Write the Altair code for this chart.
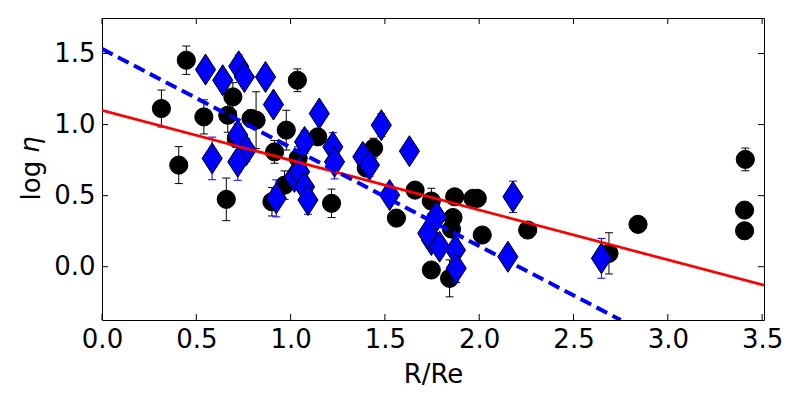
import altair as alt
import pandas as pd

# ---- data ----
circ_x = [0.447, 0.315, 0.407, 0.540, 0.659, 0.694, 0.667, 0.790, 0.817, 0.712,
          0.977, 0.915, 0.968, 0.901, 1.217, 1.144, 1.036, 1.040, 1.440, 1.401,
          1.561, 1.660, 1.746, 1.870, 1.967, 1.990, 1.861, 1.853, 1.746, 1.843,
          2.016, 2.257, 2.688, 2.842, 3.411, 3.407, 3.407]
circ_y = [1.453, 1.113, 0.715, 1.054, 0.474, 1.195, 1.066, 1.043, 1.031, 0.902,
          0.961, 0.808, 0.574, 0.457, 0.446, 0.914, 1.312, 0.764, 0.834, 0.694,
          0.342, 0.539, 0.462, 0.492, 0.481, 0.481, 0.346, 0.265, -0.023, -0.082,
          0.223, 0.258, 0.094, 0.298, 0.755, 0.398, 0.253]
circ_err = [0.10, 0.13, 0.13, 0.12, 0.15, 0.10, 0.12, 0.06, 0.20, 0.06,
            0.14, 0.08, 0.10, 0.10, 0.10, 0.05, 0.08, 0.08, 0.07, 0.05,
            0.04, 0.05, 0.09, 0.05, 0.04, 0.04, 0.05, 0.05, 0.04, 0.13,
            0.03, 0.03, 0.145, 0.03, 0.08, 0.03, 0.03]

dia_x = [0.549, 0.640, 0.725, 0.755, 0.867, 0.909, 0.584, 0.720, 0.765, 0.720,
         1.152, 1.074, 1.224, 1.233, 1.383, 1.418, 1.020, 1.048, 1.074, 1.092,
         0.924, 1.481, 1.630, 1.525, 2.179, 2.152, 1.773, 1.746, 1.790, 1.727,
         1.874, 1.878, 2.648]
dia_y = [1.387, 1.312, 1.410, 1.335, 1.335, 1.141, 0.762, 0.926, 0.820, 0.738,
         1.078, 0.878, 0.843, 0.738, 0.773, 0.715, 0.632, 0.668, 0.562, 0.469,
         0.481, 0.996, 0.813, 0.504, 0.492, 0.070, 0.351, 0.188, 0.141, 0.235,
         0.117, -0.011, 0.059]
dia_err = [0.06, 0.06, 0.08, 0.06, 0.06, 0.06, 0.15, 0.08, 0.08, 0.13,
           0.06, 0.08, 0.10, 0.12, 0.06, 0.08, 0.06, 0.06, 0.10, 0.10,
           0.13, 0.08, 0.06, 0.06, 0.11, 0.06, 0.06, 0.06, 0.06, 0.06,
           0.08, 0.10, 0.14]

red_x = [0.0, 3.51]
red_y = [1.10, -0.13]
blue_x = [0.0, 2.75]
blue_y = [1.533, -0.375]

x_ticks = [0.0, 0.5, 1.0, 1.5, 2.0, 2.5, 3.0, 3.5]
y_ticks = [0.0, 0.5, 1.0, 1.5]

# ---- tables ----
circ = pd.DataFrame({"x": circ_x, "y": circ_y, "e": circ_err})
circ["lo"] = circ["y"] - circ["e"]
circ["hi"] = circ["y"] + circ["e"]
dia = pd.DataFrame({"x": dia_x, "y": dia_y, "e": dia_err})
dia["lo"] = dia["y"] - dia["e"]
dia["hi"] = dia["y"] + dia["e"]
red = pd.DataFrame({"x": red_x, "y": red_y})
blue = pd.DataFrame({"x": blue_x, "y": blue_y})
xt = pd.DataFrame({"x": x_ticks})
yt = pd.DataFrame({"y": y_ticks})

W, H = 662, 302
FONT = "DejaVu Sans"
xs = alt.Scale(domain=[0, 3.51], nice=False, zero=False)
ys = alt.Scale(domain=[-0.375, 1.75], nice=False, zero=False)

x_axis = alt.Axis(values=x_ticks, format=".1f", ticks=False, tickSize=0, domain=False,
                  grid=False, labelFont=FONT, labelFontSize=26, labelColor="black",
                  labelPadding=6, labelFlush=False, labelOverlap=False,
                  title="R/Re", titleFont=FONT, titleFontSize=26, titleFontWeight="normal",
                  titleColor="black", titleBaseline="alphabetic", titleY=62, titleX=331,
                  titleAlign="center")
y_axis = alt.Axis(values=y_ticks, format=".1f", ticks=False, tickSize=0, domain=False,
                  grid=False, labelFont=FONT, labelFontSize=26, labelColor="black",
                  labelPadding=7, labelFlush=False, labelOverlap=False,
                  title="log", titleFont=FONT, titleFontSize=26, titleFontWeight="normal",
                  titleColor="black", titleAngle=270, titleAlign="left",
                  titleBaseline="alphabetic", titleX=-63, titleY=182)


def X(field):
    return alt.X(field, type="quantitative", scale=xs, axis=x_axis, title="R/Re")


def Y(field):
    return alt.Y(field, type="quantitative", scale=ys, axis=y_axis, title="log")


def errbars(df, color):
    r = alt.Chart(df).mark_rule(color=color, strokeWidth=1).encode(
        x=X("x"), y=Y("lo"), y2="hi:Q",
    )
    c1 = alt.Chart(df).mark_tick(color=color, orient="horizontal", size=8,
                                 thickness=1, opacity=1).encode(x=X("x"), y=Y("lo"))
    c2 = alt.Chart(df).mark_tick(color=color, orient="horizontal", size=8,
                                 thickness=1, opacity=1).encode(x=X("x"), y=Y("hi"))
    return [r, c1, c2]


circles = alt.Chart(circ).mark_point(shape="circle", filled=True, fill="black",
                                     stroke="black", strokeWidth=1, size=330,
                                     opacity=1).encode(x=X("x"), y=Y("y"))

diamonds = alt.Chart(dia).mark_point(shape="M0,-1L0.65,0L0,1L-0.65,0Z", filled=True,
                                     fill="#0000ff", stroke="black", strokeWidth=1,
                                     size=961, opacity=1).encode(x=X("x"), y=Y("y"))

red_line = alt.Chart(red).mark_line(color="#ff0000", strokeWidth=2.7, clip=True).encode(
    x=X("x"), y=Y("y"))
blue_line = alt.Chart(blue).mark_line(color="#0000ff", strokeWidth=4, strokeDash=[12, 6],
                                      clip=True).encode(x=X("x"), y=Y("y"))

tick_len = 6
tb = alt.Chart(xt).mark_rule(color="black", strokeWidth=1).encode(
    x=X("x"), y=alt.value(H), y2=alt.value(H - tick_len))
tt = alt.Chart(xt).mark_rule(color="black", strokeWidth=1).encode(
    x=X("x"), y=alt.value(0), y2=alt.value(tick_len))
tl = alt.Chart(yt).mark_rule(color="black", strokeWidth=1).encode(
    y=Y("y"), x=alt.value(0), x2=alt.value(tick_len))
tr = alt.Chart(yt).mark_rule(color="black", strokeWidth=1).encode(
    y=Y("y"), x=alt.value(W), x2=alt.value(W - tick_len))

eta = alt.Chart(pd.DataFrame({"s": ["η"]})).mark_text(
    angle=270, align="left", baseline="alphabetic", font=FONT, fontSize=26,
    fontStyle="italic", color="black").encode(
    x=alt.value(-63), y=alt.value(135), text="s:N")

layers = errbars(circ, "black") + [circles] + errbars(dia, "#0000ff") + \
         [diamonds, red_line, blue_line, tb, tt, tl, tr, eta]

chart = alt.layer(*layers).properties(
    width=W, height=H,
    background="white",
    autosize=alt.AutoSizeParams(type="none"),
    padding={"left": 94, "top": 10, "right": 28, "bottom": 72},
).configure_view(stroke="black", strokeWidth=1)

chart.save("out.html", embed_options={"renderer": "svg", "actions": False})
